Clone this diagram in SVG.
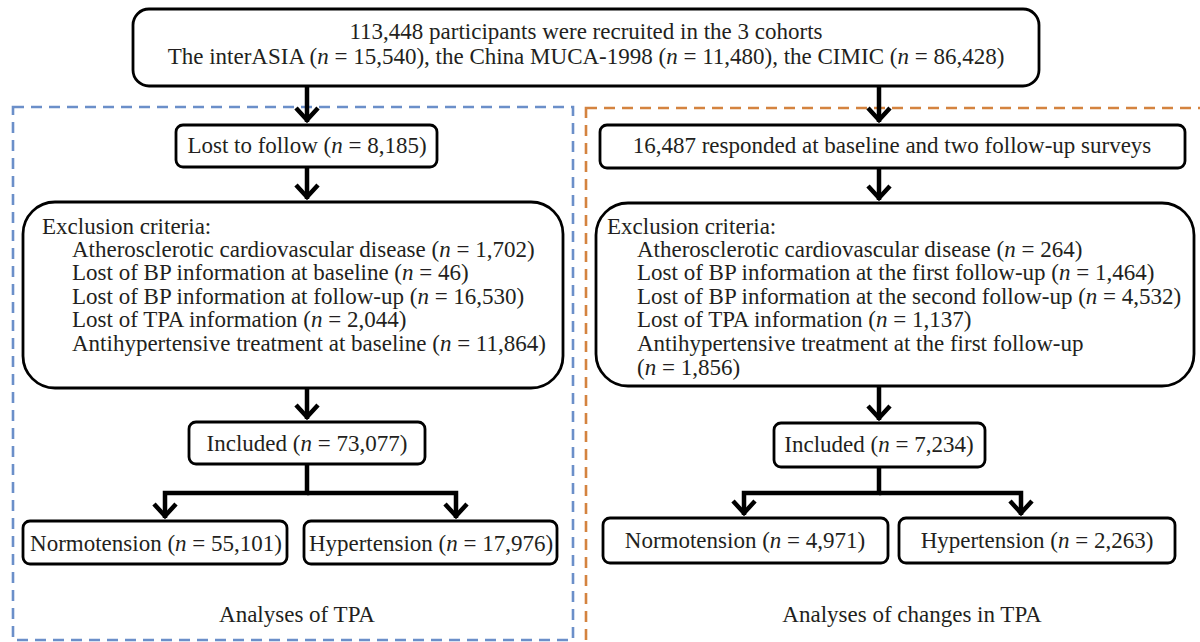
<svg xmlns="http://www.w3.org/2000/svg" width="1200" height="642" viewBox="0 0 1200 642">
<defs>
<style>
.box{fill:#fff;stroke:#000;stroke-width:2.8}
.t{font-family:"Liberation Serif","Times New Roman",serif;font-size:23px;fill:#231f20}
.c{text-anchor:middle}
.it{font-style:italic}
.con{fill:none;stroke:#000;stroke-width:4.5}
.panelB{fill:none;stroke:#6b8fc9;stroke-width:2.6;stroke-dasharray:11 7}
.panelO{fill:none;stroke:#d4833f;stroke-width:2.6;stroke-dasharray:11 7}
</style>
<marker id="arr" markerUnits="userSpaceOnUse" viewBox="-18 -15 22 30" refX="0" refY="0" markerWidth="22" markerHeight="30" orient="auto" overflow="visible">
<path d="M-14,-11 L-2,0 L-14,11" fill="none" stroke="#000" stroke-width="4.5" stroke-linejoin="miter"/>
</marker>
</defs>

<g id="panels">
<rect class="panelB" x="13" y="107" width="560" height="533"/>
<rect class="panelO" x="586" y="108" width="624" height="560"/>
</g>

<g id="connectors">
<path class="con" d="M307,87 V122" marker-end="url(#arr)"/>
<path class="con" d="M307,167 V199" marker-end="url(#arr)"/>
<path class="con" d="M307,388 V419" marker-end="url(#arr)"/>
<path class="con" d="M307,464 V493 H165 V518" marker-end="url(#arr)"/>
<path class="con" d="M307,493 H456 V518" marker-end="url(#arr)"/>
<path class="con" d="M879,87 V122" marker-end="url(#arr)"/>
<path class="con" d="M879,168 V200" marker-end="url(#arr)"/>
<path class="con" d="M879,386 V420" marker-end="url(#arr)"/>
<path class="con" d="M879,467 V493 H744 V515" marker-end="url(#arr)"/>
<path class="con" d="M879,493 H1021 V515" marker-end="url(#arr)"/>
</g>

<g id="top">
<rect class="box" x="133" y="9" width="906" height="77" rx="16"/>
<text class="t c" x="586" y="39">113,448 participants were recruited in the 3 cohorts</text>
<text class="t c" x="586" y="64">The interASIA (<tspan class="it">n</tspan> = 15,540), the China MUCA-1998 (<tspan class="it">n</tspan> = 11,480), the CIMIC (<tspan class="it">n</tspan> = 86,428)</text>
</g>

<g id="lost">
<rect class="box" x="176" y="125" width="261" height="42" rx="7"/>
<text class="t c" x="307" y="153">Lost to follow (<tspan class="it">n</tspan> = 8,185)</text>
</g>

<g id="responded">
<rect class="box" x="600" y="125" width="585" height="43" rx="7"/>
<text class="t c" x="892" y="153">16,487 responded at baseline and two follow-up surveys</text>
</g>

<g id="exclL">
<rect class="box" x="23" y="202" width="540" height="186" rx="32"/>
<text class="t" x="42" y="234">Exclusion criteria:</text>
<text class="t" x="72" y="257">Atherosclerotic cardiovascular disease (<tspan class="it">n</tspan> = 1,702)</text>
<text class="t" x="72" y="280">Lost of BP information at baseline (<tspan class="it">n</tspan> = 46)</text>
<text class="t" x="72" y="304">Lost of BP information at follow-up (<tspan class="it">n</tspan> = 16,530)</text>
<text class="t" x="72" y="327">Lost of TPA information (<tspan class="it">n</tspan> = 2,044)</text>
<text class="t" x="72" y="351">Antihypertensive treatment at baseline (<tspan class="it">n</tspan> = 11,864)</text>
</g>

<g id="exclR">
<rect class="box" x="596" y="203" width="598" height="183" rx="32"/>
<text class="t" x="607" y="234">Exclusion criteria:</text>
<text class="t" x="637" y="257">Atherosclerotic cardiovascular disease (<tspan class="it">n</tspan> = 264)</text>
<text class="t" x="637" y="280">Lost of BP information at the first follow-up (<tspan class="it">n</tspan> = 1,464)</text>
<text class="t" x="637" y="304">Lost of BP information at the second follow-up (<tspan class="it">n</tspan> = 4,532)</text>
<text class="t" x="637" y="327">Lost of TPA information (<tspan class="it">n</tspan> = 1,137)</text>
<text class="t" x="637" y="351">Antihypertensive treatment at the first follow-up</text>
<text class="t" x="637" y="375">(<tspan class="it">n</tspan> = 1,856)</text>
</g>

<g id="inclL">
<rect class="box" x="189" y="422" width="236" height="42" rx="7"/>
<text class="t c" x="307" y="451">Included (<tspan class="it">n</tspan> = 73,077)</text>
</g>

<g id="inclR">
<rect class="box" x="774" y="423" width="211" height="44" rx="7"/>
<text class="t c" x="879" y="452">Included (<tspan class="it">n</tspan> = 7,234)</text>
</g>

<g id="normoL">
<rect class="box" x="23" y="521" width="264" height="43" rx="7"/>
<text class="t c" x="156" y="551">Normotension (<tspan class="it">n</tspan> = 55,101)</text>
</g>

<g id="hyperL">
<rect class="box" x="304" y="521" width="253" height="43" rx="7"/>
<text class="t c" x="431" y="551">Hypertension (<tspan class="it">n</tspan> = 17,976)</text>
</g>

<g id="normoR">
<rect class="box" x="603" y="518" width="285" height="45" rx="7"/>
<text class="t c" x="745" y="548">Normotension (<tspan class="it">n</tspan> = 4,971)</text>
</g>

<g id="hyperR">
<rect class="box" x="899" y="518" width="276" height="45" rx="7"/>
<text class="t c" x="1037" y="548">Hypertension (<tspan class="it">n</tspan> = 2,263)</text>
</g>

<g id="labels">
<text class="t c" x="297" y="622">Analyses of TPA</text>
<text class="t c" x="912" y="622">Analyses of changes in TPA</text>
</g>
</svg>
